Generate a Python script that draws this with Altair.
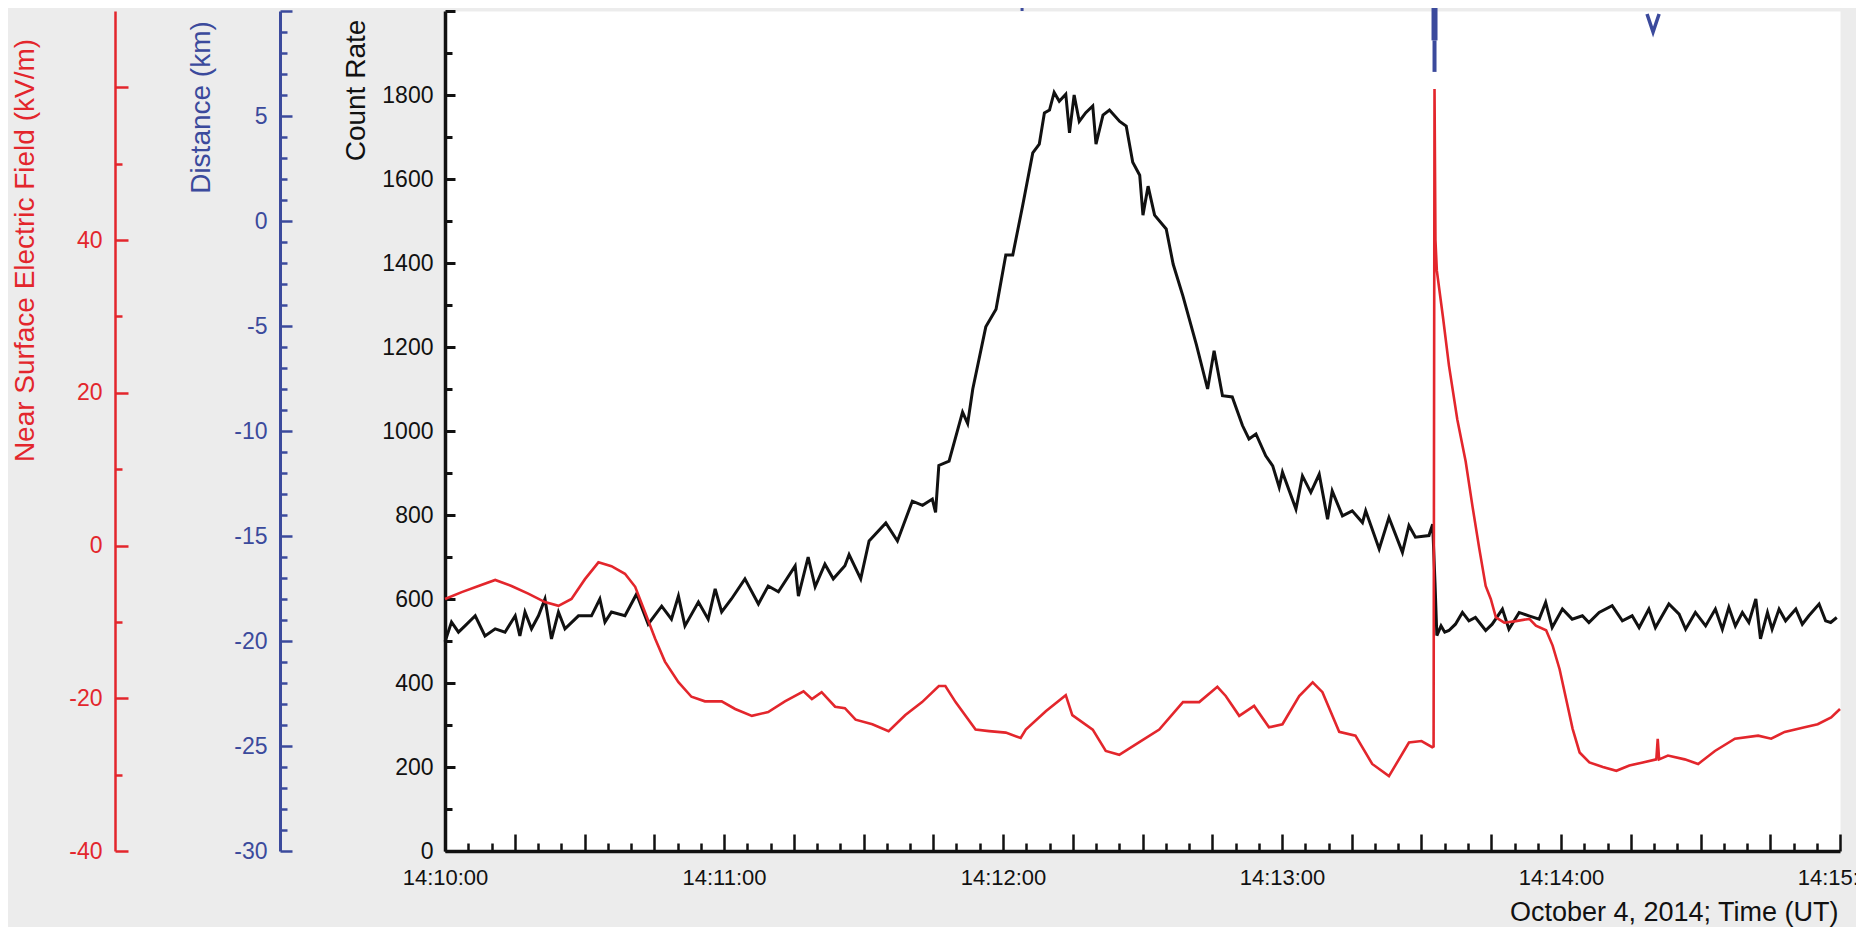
import altair as alt
import pandas as pd

# ---------------- data ----------------
# seconds after 14:10:00 UT and gamma-ray count rate
t_count = [0, 1.4, 2.9, 4.3, 6.5, 8.6, 10.8, 12.9, 15.1, 16.1, 17.2, 18.6, 20.1, 21.5, 22.9,
           24.4, 25.8, 28.7, 31.5, 33.3, 34.4, 35.8, 38.7, 41.2, 43.7, 46.6, 48.7, 50.2, 51.6,
           54.5, 56.6, 58.1, 59.5, 61.6, 64.5, 67.4, 69.5, 71.7, 75.3, 76.0, 78.1, 79.6, 81.7,
           83.5, 86.0, 86.9, 89.4, 91.2, 94.8, 97.3, 100.5, 102.7, 104.8, 105.5, 106.2, 108.4,
           111.3, 112.4, 113.5, 116.3, 118.5, 120.6, 122.1, 124.2, 126.4, 127.8, 128.9, 130.0,
           131.0, 132.1, 133.5, 134.3, 135.3, 136.4, 137.8, 139.3, 140.0, 141.5, 142.9, 145.1,
           146.5, 147.9, 149.4, 150.1, 151.2, 152.6, 155.1, 156.6, 158.7, 161.6, 164.0, 165.4,
           167.2, 169.3, 171.5, 172.9, 174.4, 176.5, 178.0, 179.4, 180.1, 183.0, 184.4, 186.2,
           188.0, 189.8, 190.8, 193.0, 195.1, 197.3, 198.0, 200.9, 203.0, 205.9, 207.3, 208.7,
           211.6, 212.4, 212.9, 213.3, 214.2, 215.0, 215.9, 217.3, 218.8, 220.2, 221.6, 223.8,
           225.2, 227.4, 228.8, 231.0, 233.1, 235.3, 236.7, 238.1, 240.3, 242.4, 244.6, 246.0,
           248.2, 251.0, 253.2, 255.3, 256.8, 258.9, 260.3, 263.2, 265.4, 266.8, 268.9, 271.1,
           273.2, 274.7, 276.1, 277.5, 279.0, 280.4, 281.9, 282.9, 284.4, 285.4, 286.9, 288.3,
           290.5, 291.9, 293.3, 295.5, 296.9, 298.0, 299.3]
count_rate = [498, 545, 521, 536, 560, 512, 529, 521, 560, 512, 569, 529, 560, 600, 505,
              569, 529, 560, 560, 600, 545, 569, 560, 612, 540, 583, 552, 607, 536,
              593, 552, 624, 569, 600, 648, 588, 631, 617, 679, 607, 700, 629, 683,
              648, 679, 706, 648, 738, 781, 738, 833, 823, 838, 806, 918, 928,
              1045, 1018, 1100, 1248, 1290, 1419, 1419, 1535, 1662, 1683, 1757, 1764,
              1806, 1785, 1802, 1710, 1800, 1737, 1758, 1774, 1683, 1752, 1764, 1737,
              1726, 1640, 1609, 1514, 1583, 1514, 1481, 1397, 1321, 1205, 1100, 1191,
              1084, 1081, 1013, 981, 993, 941, 917, 866, 902, 814, 893, 854,
              897, 790, 857, 798, 810, 782, 810, 719, 794, 711, 775, 747,
              751, 778, 640, 513, 536, 521, 525, 540, 568, 548, 556, 525,
              540, 576, 528, 568, 560, 552, 592, 532, 576, 552, 560, 544,
              568, 584, 548, 560, 532, 576, 532, 588, 564, 528, 568, 536,
              576, 528, 580, 536, 568, 544, 600, 505, 568, 528, 576, 548,
              576, 540, 560, 588, 548, 544, 556]

# seconds after 14:10:00 UT and near surface electric field (kV/m)
t_field = [0, 3.6, 7.2, 10.8, 14.3, 17.9, 21.5, 24.4, 27.2, 30.1, 33.0, 35.8, 38.7, 40.9,
           43.0, 45.2, 47.3, 50.2, 53.0, 55.9, 59.5, 62.4, 66.0, 69.5, 73.1, 77.1, 78.9,
           81.0, 83.9, 86.0, 88.3, 91.9, 95.4, 99.0, 102.6, 106.2, 107.6, 109.8, 114.1,
           117.0, 120.6, 123.8, 124.9, 129.2, 133.5, 134.9, 139.3, 142.1, 145.0, 149.4,
           153.6, 158.7, 162.2, 166.1, 167.9, 170.8, 174.0, 177.2, 180.1, 183.7, 186.6,
           188.7, 192.3, 195.8, 199.4, 203.0, 207.3, 210.0, 212.3, 212.6, 212.8, 213.0,
           213.3, 214.6, 215.9, 217.7, 219.5, 221.0, 222.4, 223.8, 224.9, 226.0, 227.8,
           230.3, 233.2, 234.6, 236.8, 238.2, 239.7, 241.1, 242.5, 244.0, 246.1, 249.0,
           251.9, 254.7, 257.6, 260.5, 260.8, 261.1, 263.0, 266.6, 269.5, 273.1, 277.4,
           282.4, 285.2, 288.1, 292.4, 295.2, 298.1, 300.0]
e_field = [-7.0, -6.1, -5.3, -4.5, -5.3, -6.3, -7.4, -7.9, -7.0, -4.4, -2.2, -2.7, -3.7, -5.4,
           -8.7, -12.2, -15.2, -17.9, -19.8, -20.4, -20.4, -21.4, -22.3, -21.8, -20.4, -19.1, -20.1,
           -19.2, -21.1, -21.3, -22.8, -23.4, -24.3, -22.2, -20.5, -18.4, -18.4, -20.5, -24.1,
           -24.3, -24.5, -25.2, -24.1, -21.7, -19.6, -22.2, -24.1, -26.9, -27.4, -25.7,
           -24.1, -20.5, -20.5, -18.5, -19.7, -22.3, -21.0, -23.8, -23.4, -19.7, -17.9,
           -19.2, -24.4, -24.9, -28.6, -30.2, -25.8, -25.6, -26.4, -26.3, 59.8, 40.0,
           36.0, 30.0, 23.6, 16.5, 11.0, 5.0, -0.3, -5.3, -7.0, -9.4, -10.1,
           -9.9, -9.6, -10.5, -11.1, -13.1, -16.2, -20.1, -24.0, -27.1, -28.4, -29.0,
           -29.5, -28.8, -28.4, -28.0, -25.3, -28.0, -27.5, -28.0, -28.6, -26.9, -25.3,
           -24.9, -25.3, -24.4, -23.8, -23.4, -22.5, -21.4]

# lightning markers (distance, km)
flash_t = [212.8]
flash_top = [10.2]
flash_mid = [8.6]
flash_bot = [7.1]
small_t = [124.1]
small_lo = [10.0]
small_hi = [10.35]
v_t = [259.8]
v_d = [9.43]

# ---------------- styling ----------------
FONT = "Liberation Sans"
RED = "#e3262c"
BLUE = "#3b4a9c"
BLACK = "#111111"

count_df = pd.DataFrame({"t": t_count, "c": count_rate})
field_df = pd.DataFrame({"t": t_field, "e": e_field})
flash_df = pd.DataFrame({"t": flash_t, "top": flash_top, "mid": flash_mid, "bot": flash_bot})
small_df = pd.DataFrame({"t": small_t, "lo": small_lo, "hi": small_hi})
v_df = pd.DataFrame({"t": v_t, "d": v_d})

x_axis = alt.Axis(
    orient="bottom",
    values=list(range(0, 301, 5)),
    labelExpr="datum.value % 60 == 0 ? '14:' + (10 + datum.value / 60) + ':00' : ''",
    tickSize={"expr": "datum.value % 15 == 0 ? -17 : -8"},
    tickWidth=2.5, tickColor=BLACK,
    domainColor=BLACK, domainWidth=3.5,
    labelPadding=33, labelFont=FONT, labelFontSize=22, labelColor=BLACK,
    labelFlush=False, labelOverlap=False, grid=False,
    title="October 4, 2014; Time (UT)",
    titleFont=FONT, titleFontSize=27, titleFontWeight="normal", titleColor=BLACK,
    titleAlign="right", titleBaseline="alphabetic", titleAngle=0,
    titleX=1393, titleY=69,
)


def xenc():
    return alt.X("t:Q", scale=alt.Scale(domain=[0, 300], nice=False, zero=False), axis=x_axis)


count_axis = alt.Axis(
    orient="left",
    values=list(range(0, 2001, 100)),
    labelExpr="datum.value % 200 == 0 && datum.value < 2000 ? '' + datum.value : ''",
    tickSize={"expr": "datum.value % 200 == 0 ? -10 : -7"},
    tickWidth=3, tickColor=BLACK,
    domainColor=BLACK, domainWidth=3.5,
    labelPadding=22, labelFont=FONT, labelFontSize=23, labelColor=BLACK,
    labelFlush=False, labelOverlap=False, grid=False,
    title="Count Rate", titleFont=FONT, titleFontSize=28, titleFontWeight="normal",
    titleColor=BLACK, titleAngle=270, titleAlign="center", titleBaseline="middle",
    titleX=-89, titleY=79,
)

field_axis = alt.Axis(
    orient="left", offset=330,
    values=list(range(-40, 61, 10)),
    labelExpr="datum.value % 20 == 0 && datum.value < 60 ? '' + datum.value : ''",
    tickSize={"expr": "datum.value % 20 == 0 ? -13 : -7"},
    tickWidth=2.5, tickColor=RED,
    domainColor=RED, domainWidth=2.5,
    labelPadding=26, labelFont=FONT, labelFontSize=23, labelColor=RED,
    labelFlush=False, labelOverlap=False, grid=False,
    title="Near Surface Electric Field (kV/m)", titleFont=FONT, titleFontSize=28,
    titleFontWeight="normal", titleColor=RED, titleAngle=270, titleAlign="center",
    titleBaseline="middle", titleX=-90, titleY=239,
)

dist_axis = alt.Axis(
    orient="left", offset=165,
    values=list(range(-30, 11, 1)),
    labelExpr="datum.value % 5 == 0 && datum.value < 10 ? '' + datum.value : ''",
    tickSize={"expr": "datum.value % 5 == 0 ? -12 : -7"},
    tickWidth=2.5, tickColor=BLUE,
    domainColor=BLUE, domainWidth=3,
    labelPadding=25, labelFont=FONT, labelFontSize=23, labelColor=BLUE,
    labelFlush=False, labelOverlap=False, grid=False,
    title="Distance (km)", titleFont=FONT, titleFontSize=28, titleFontWeight="normal",
    titleColor=BLUE, titleAngle=270, titleAlign="center", titleBaseline="middle",
    titleX=-79, titleY=96,
)

count_scale = alt.Scale(domain=[0, 2000], nice=False, zero=False)
field_scale = alt.Scale(domain=[-40, 70], nice=False, zero=False)
dist_scale = alt.Scale(domain=[-30, 10], nice=False, zero=False)

count_line = alt.Chart(count_df).mark_line(color=BLACK, strokeWidth=3).encode(
    x=xenc(), y=alt.Y("c:Q", scale=count_scale, axis=count_axis)
)

field_line = alt.Chart(field_df).mark_line(color=RED, strokeWidth=2.6).encode(
    x=xenc(), y=alt.Y("e:Q", scale=field_scale, axis=field_axis)
)

flash_upper = alt.Chart(flash_df).mark_rule(color=BLUE, strokeWidth=6).encode(
    x=xenc(), y=alt.Y("top:Q", scale=dist_scale, axis=dist_axis), y2="mid:Q"
)
flash_lower = alt.Chart(flash_df).mark_rule(color=BLUE, strokeWidth=4).encode(
    x=xenc(), y=alt.Y("mid:Q", scale=dist_scale, axis=dist_axis), y2="bot:Q"
)
small_mark = alt.Chart(small_df).mark_rule(color=BLUE, strokeWidth=3).encode(
    x=xenc(), y=alt.Y("lo:Q", scale=dist_scale, axis=dist_axis), y2="hi:Q"
)
v_mark = alt.Chart(v_df).mark_point(
    shape="M -0.67 -1 L 0 1 L 0.67 -1", filled=False, color=BLUE, strokeWidth=3.5,
    size=324, opacity=1
).encode(x=xenc(), y=alt.Y("d:Q", scale=dist_scale, axis=dist_axis))

dist_layer = alt.layer(flash_upper, flash_lower, small_mark, v_mark)

chart = alt.layer(count_line, field_line, dist_layer).resolve_scale(
    y="independent"
).properties(
    width=1395, height=840,
    autosize=alt.AutoSizeParams(type="none"),
    padding={"left": 437, "top": 3, "right": 16, "bottom": 76},
).configure(
    background="#ececec"
).configure_view(
    fill="white", stroke="transparent"
)

chart.save("out.html", embed_options={"renderer": "svg", "actions": False})
